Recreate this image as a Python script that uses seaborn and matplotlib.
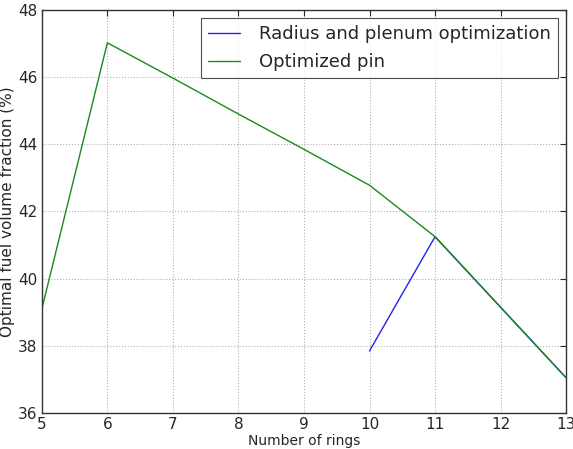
import matplotlib
matplotlib.use("Agg")
import matplotlib.pyplot as plt
import seaborn as sns
import pandas as pd

rings_radius = [10, 11, 12, 13]
frac_radius = [37.85, 41.25, 39.15, 37.05]
rings_pin = [5, 6, 7, 8, 9, 10, 11, 12, 13]
frac_pin = [39.1, 47.02, 45.97, 44.9, 43.85, 42.78, 41.25, 39.15, 37.05]
series_names = ["Radius and plenum optimization", "Optimized pin"]
xticks = [5, 6, 7, 8, 9, 10, 11, 12, 13]
yticks = [36, 38, 40, 42, 44, 46, 48]

sns.set_style("white")
plt.rcParams["font.family"] = ["DejaVu Sans"]
plt.rcParams["xtick.direction"] = "in"
plt.rcParams["ytick.direction"] = "in"

df = pd.concat([
    pd.DataFrame({"rings": rings_radius, "frac": frac_radius, "series": series_names[0]}),
    pd.DataFrame({"rings": rings_pin, "frac": frac_pin, "series": series_names[1]}),
])

fig = plt.figure(figsize=(5.73, 4.49), dpi=100)
ax = fig.add_axes([0.073, 0.080, 0.915, 0.898])
sns.lineplot(data=df, x="rings", y="frac", hue="series", hue_order=series_names,
             palette=["#2222ee", "#1a8a1a"], linewidth=1.0, ax=ax, sort=False,
             estimator=None)

ax.set_xlim(5, 13)
ax.set_ylim(36, 48)
ax.set_xticks(xticks)
ax.set_yticks(yticks)
ax.tick_params(labelsize=11, top=True, right=True, length=4, width=0.8, pad=3)
ax.set_xlabel("Number of rings", fontsize=10, labelpad=1)
ax.set_ylabel("Optimal fuel volume fraction (%)", fontsize=11, labelpad=2)
ax.grid(True, linestyle=":", color="#b0b0b0", linewidth=0.8)
for s in ax.spines.values():
    s.set_color("#333333")
    s.set_linewidth(1.0)

leg = ax.legend(loc="upper right", fontsize=13, frameon=True, fancybox=False,
                edgecolor="#222222", borderpad=0.4, handlelength=1.75,
                handletextpad=1.05, labelspacing=0.55, borderaxespad=0.45)
leg.get_frame().set_linewidth(0.8)
for line in leg.get_lines():
    line.set_linewidth(1.0)

fig.savefig("out.png", dpi=100)
